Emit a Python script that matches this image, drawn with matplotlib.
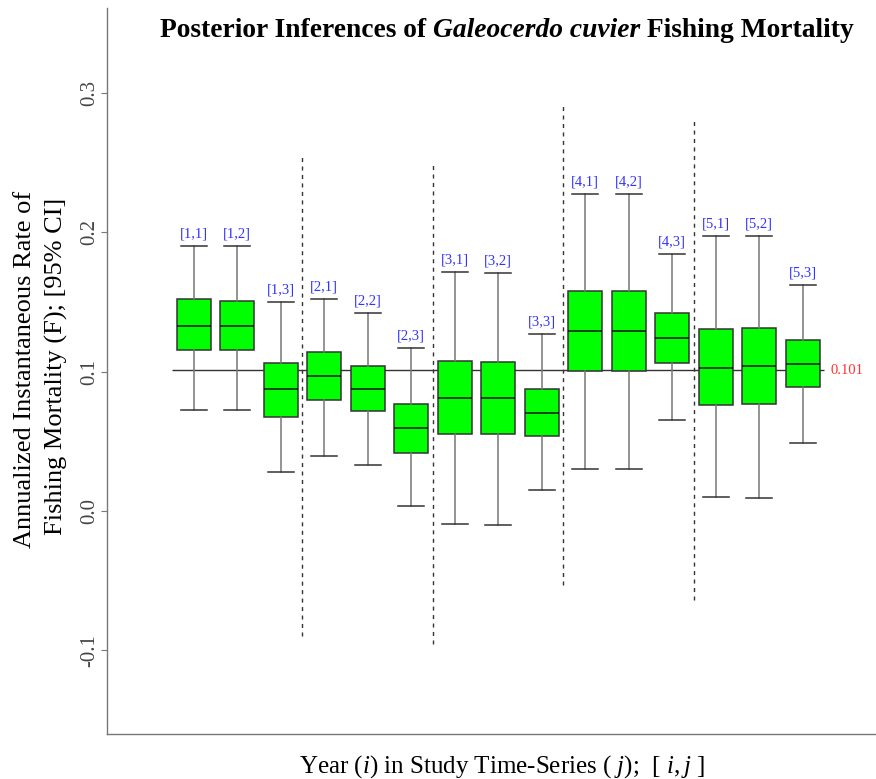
import numpy as np
import matplotlib
matplotlib.use("Agg")
import matplotlib.pyplot as plt

plt.rcParams['font.family'] = 'Liberation Serif'
plt.rcParams['mathtext.fontset'] = 'custom'
plt.rcParams['mathtext.rm'] = 'Liberation Serif'
plt.rcParams['mathtext.it'] = 'Liberation Serif:italic'

# posterior summaries of F for each [year, series]
labels = ["[1,1]", "[1,2]", "[1,3]", "[2,1]", "[2,2]", "[2,3]", "[3,1]", "[3,2]",
          "[3,3]", "[4,1]", "[4,2]", "[4,3]", "[5,1]", "[5,2]", "[5,3]"]
med = [0.1326, 0.1326, 0.0874, 0.0967, 0.0878, 0.0594, 0.0809, 0.0809,
       0.0701, 0.1290, 0.1290, 0.1242, 0.1029, 0.1039, 0.1053]
q1 = [0.1153, 0.1153, 0.0675, 0.0799, 0.0716, 0.0416, 0.0551, 0.0551,
      0.0536, 0.1003, 0.1003, 0.1065, 0.0759, 0.0766, 0.0888]
q3 = [0.1520, 0.1510, 0.1060, 0.1144, 0.1043, 0.0770, 0.1075, 0.1067,
      0.0874, 0.1579, 0.1580, 0.1419, 0.1304, 0.1311, 0.1230]
lo95 = [0.0723, 0.0723, 0.0278, 0.0395, 0.0328, 0.0036, -0.0096, -0.0103,
        0.0148, 0.0299, 0.0299, 0.0651, 0.0098, 0.0091, 0.0486]
hi95 = [0.1900, 0.1900, 0.1498, 0.1524, 0.1421, 0.1168, 0.1713, 0.1706,
        0.1268, 0.2278, 0.2273, 0.1845, 0.1972, 0.1972, 0.1622]
mean_F = 0.101

# year separators
sep_x = [3.5, 6.5, 9.5, 12.5]
sep_top = [0.255, 0.250, 0.291, 0.280]
sep_bot = [-0.090, -0.0955, -0.053, -0.064]

fig = plt.figure(figsize=(8.76, 7.79), dpi=100)
ax = fig.add_axes([107/876, 45/779, 769/876, 726/779])

pos = np.arange(1, len(labels) + 1)
stats = []
for i in range(len(labels)):
    stats.append(dict(med=med[i], q1=q1[i], q3=q3[i], whislo=lo95[i], whishi=hi95[i], fliers=[]))

ax.hlines(mean_F, 0.5, len(labels) + 0.5, color='#333333', lw=1, zorder=1)

ax.bxp(stats, positions=pos, widths=0.78, capwidths=0.59, showfliers=False, patch_artist=True,
       boxprops=dict(facecolor='#00ff00', edgecolor='#333333', lw=1.1),
       medianprops=dict(color='#111111', lw=1.1),
       whiskerprops=dict(color='#777777', lw=1.1),
       capprops=dict(color='#333333', lw=1.1), zorder=3)

for x, t, b in zip(sep_x, sep_top, sep_bot):
    ax.vlines(x, b, t, color='#333333', lw=1, linestyles=(0, (2.9, 3.2)))

for p, h, lab in zip(pos, hi95, labels):
    ax.annotate(lab, (p, h), xytext=(0, 4), textcoords='offset points',
                ha='center', va='bottom', color='#3333ff', fontsize=10.5)

ax.annotate("0.101", (len(labels) + 0.5, mean_F), xytext=(4, 0), textcoords='offset points',
            ha='left', va='center', color='#ff3333', fontsize=10.5)

ax.set_xlim(-0.993, 16.685)
ax.set_ylim(-0.1601, 0.3611)
ax.set_yticks([-0.1, 0.0, 0.1, 0.2, 0.3])
ax.set_yticklabels(["-0.1", "0.0", "0.1", "0.2", "0.3"], rotation=90, va='center',
                   fontsize=15, color='#444444')
ax.tick_params(axis='y', length=4, width=0.8, color='#777777', pad=1.5)
ax.set_xticks([])
for s in ['top', 'right']:
    ax.spines[s].set_visible(False)
for s in ['left', 'bottom']:
    ax.spines[s].set_color('#777777')
    ax.spines[s].set_linewidth(1)

# title pieces: bold / bold italic
t1 = fig.text(160/876, (779-37)/779, "Posterior Inferences of ", fontsize=19.8,
              fontweight='bold', ha='left', va='baseline')
t2 = ax.annotate("Galeocerdo cuvier", xy=(1, 0), xycoords=t1, ha='left', va='bottom',
                 fontsize=19.8, fontweight='bold', fontstyle='italic')
t3 = ax.annotate(" Fishing Mortality", xy=(1, 0), xycoords=t2, ha='left', va='bottom',
                 fontsize=19.8, fontweight='bold')

fig.text(25/876, (779-369)/779, "Annualized Instantaneous Rate of", rotation=90,
         ha='center', va='center', fontsize=19)
fig.text(56/876, (779-366)/779, "Fishing Mortality (F); [95% CI]", rotation=90,
         ha='center', va='center', fontsize=19)

fig.text(502/876, (779-773)/779, r"Year ($i$) in Study Time-Series ( $j$);  [ $i, j$ ]",
         ha='center', va='baseline', fontsize=18)

fig.savefig("out.png", dpi=100)
